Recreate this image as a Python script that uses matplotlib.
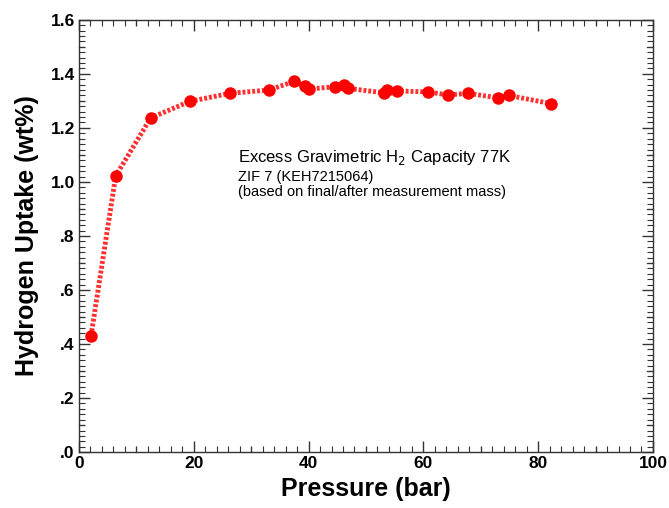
import matplotlib
matplotlib.use("Agg")
import matplotlib.pyplot as plt
import matplotlib.transforms as mtransforms
import numpy as np
from matplotlib.ticker import MultipleLocator, FuncFormatter

# Pressure (bar) and excess H2 uptake (wt%)
pressure = [2.1, 6.4, 12.5, 19.3, 26.3, 33.1, 37.5, 39.4, 40.1, 44.6, 46.2, 46.9,
            53.1, 53.7, 55.4, 60.8, 64.3, 67.8, 73.0, 74.9, 82.2]
uptake = [0.43, 1.022, 1.237, 1.298, 1.328, 1.340, 1.372, 1.356, 1.344, 1.352, 1.360, 1.346,
          1.330, 1.342, 1.337, 1.333, 1.322, 1.328, 1.311, 1.320, 1.290]

plt.rcParams['font.family'] = ['Liberation Sans', 'DejaVu Sans']

fig = plt.figure(figsize=(6.69, 5.08), dpi=100)
ax = fig.add_axes([0.118, 0.110, 0.858, 0.851])

ax.plot(pressure, uptake, color="#ff3030", linestyle=(0, (0.6, 0.4)), linewidth=3.5,
        marker="o", markersize=9, markerfacecolor="red", markeredgecolor="red",
        markeredgewidth=0)

ax.set_xlim(0, 100)
ax.set_ylim(0, 1.6)

ax.xaxis.set_major_locator(MultipleLocator(20))
ax.xaxis.set_minor_locator(MultipleLocator(2))
ax.yaxis.set_major_locator(MultipleLocator(0.2))
ax.yaxis.set_minor_locator(MultipleLocator(0.02))


def yfmt(v, pos):
    s = "%.1f" % v
    return s[1:] if s.startswith("0") else s


ax.yaxis.set_major_formatter(FuncFormatter(yfmt))

tick_col = "#333333"
ax.tick_params(which="both", direction="in", top=True, right=True, color=tick_col)
ax.tick_params(which="major", length=8, width=1, labelsize=12.5, pad=3)
ax.tick_params(which="minor", length=4, width=0.8)
for lab in ax.get_xticklabels() + ax.get_yticklabels():
    lab.set_fontweight("bold")
for sp in ax.spines.values():
    sp.set_color(tick_col)
    sp.set_linewidth(1)

# medium ticks halfway between the major ones (all four sides)
bx = mtransforms.blended_transform_factory(ax.transData, ax.transAxes)
by = mtransforms.blended_transform_factory(ax.transAxes, ax.transData)
for xv in np.arange(10, 100, 20):
    for y0, y1 in [(0, 0.0125), (1, 1 - 0.0125)]:
        ax.plot([xv, xv], [y0, y1], color=tick_col, lw=0.9, transform=bx, clip_on=False)
for yv in np.arange(0.1, 1.6, 0.2):
    for x0, x1 in [(0, 0.0095), (1, 1 - 0.0095)]:
        ax.plot([x0, x1], [yv, yv], color=tick_col, lw=0.9, transform=by, clip_on=False)

ax.set_xlabel("Pressure (bar)", fontsize=18, fontweight="bold", labelpad=4)
ax.set_ylabel("Hydrogen Uptake (wt%)", fontsize=18, fontweight="bold", labelpad=8)

ax.text(27.7, 1.125, "Excess Gravimetric H$_2$ Capacity 77K", fontsize=12, va="top")
ax.text(27.7, 1.045, "ZIF 7 (KEH7215064)", fontsize=10.5, va="top")
ax.text(27.7, 0.99, "(based on final/after measurement mass)", fontsize=10.5, va="top")

fig.savefig("out.png", dpi=100)
